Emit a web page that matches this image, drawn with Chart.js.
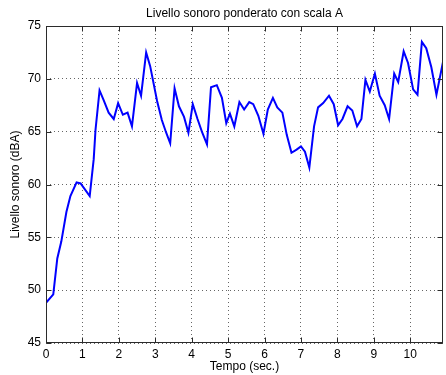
<!DOCTYPE html>
<html>
<head>
<meta charset="utf-8">
<script src="https://cdn.jsdelivr.net/npm/chart.js@4/dist/chart.umd.min.js"></script>
<style>
  html, body { margin: 0; padding: 0; background: #fff; }
  #wrap { width: 446px; height: 375px; }
</style>
</head>
<body>
<div id="wrap"><canvas id="c" width="446" height="375"></canvas></div>
<script>
// A-weighted sound level over time
const times = [0, 0.2, 0.31, 0.42, 0.56, 0.67, 0.84, 0.95, 1.2, 1.31,
  1.36, 1.47, 1.58, 1.72, 1.86, 1.98, 2.11, 2.24, 2.36, 2.5,
  2.61, 2.75, 2.86, 3.05, 3.18, 3.3, 3.41, 3.53, 3.65, 3.79,
  3.91, 4.03, 4.16, 4.28, 4.42, 4.53, 4.69, 4.83, 4.95, 5.05,
  5.17, 5.31, 5.44, 5.58, 5.69, 5.83, 5.97, 6.09, 6.23, 6.35,
  6.49, 6.61, 6.74, 6.88, 7.0, 7.11, 7.23, 7.36, 7.47, 7.61,
  7.77, 7.9, 8.02, 8.14, 8.28, 8.41, 8.54, 8.66, 8.77, 8.89,
  9.03, 9.16, 9.3, 9.42, 9.56, 9.67, 9.82, 9.94, 10.08, 10.2,
  10.32, 10.44, 10.58, 10.72, 10.9];
const levels = [48.8, 49.6, 53.0, 54.6, 57.4, 58.9, 60.2, 60.1, 58.9, 62.4,
  65.2, 68.9, 68.0, 66.8, 66.2, 67.7, 66.6, 66.8, 65.5, 69.6,
  68.4, 72.5, 71.2, 67.9, 66.1, 64.9, 63.9, 69.1, 67.4, 66.4,
  64.9, 67.6, 66.2, 65.0, 63.8, 69.2, 69.4, 68.2, 65.8, 66.7,
  65.5, 67.8, 67.1, 67.8, 67.6, 66.5, 64.8, 67.1, 68.2, 67.3,
  66.8, 64.7, 63.0, 63.3, 63.6, 63.1, 61.6, 65.5, 67.3, 67.7,
  68.4, 67.6, 65.6, 66.2, 67.4, 67.0, 65.5, 66.2, 69.9, 68.8,
  70.5, 68.4, 67.5, 66.2, 70.5, 69.7, 72.6, 71.5, 69.0, 68.5,
  73.5, 72.9, 71.1, 68.5, 71.6];
const xTicks = [0, 1, 2, 3, 4, 5, 6, 7, 8, 9, 10];
const yTicks = [45, 50, 55, 60, 65, 70, 75];
const xRange = [0, 10.9];
const yRange = [45, 75];

const chartTitle = 'Livello sonoro ponderato con scala A';
const xTitle = 'Tempo (sec.)';
const yTitle = 'Livello sonoro (dBA)';

const FONT = "'Liberation Sans', Arial, sans-serif";
const FSIZE = 12;

// Title centred over the plot, framed box and inward tick marks
const framePlugin = {
  id: 'frame',
  afterDatasetsDraw(chart) {
    const { ctx, chartArea: a, scales } = chart;
    ctx.save();
    ctx.strokeStyle = '#2b2b2b';
    ctx.lineWidth = 1;
    const L = Math.round(a.left) + 0.5, R = Math.round(a.right) - 0.5;
    const T = Math.round(a.top) + 0.5, B = Math.round(a.bottom) - 0.5;
    ctx.strokeRect(L, T, R - L, B - T);
    const len = 5;
    ctx.beginPath();
    xTicks.forEach(v => {
      const px = Math.round(scales.x.getPixelForValue(v)) + 0.5;
      ctx.moveTo(px, B); ctx.lineTo(px, B - len);
      ctx.moveTo(px, T); ctx.lineTo(px, T + len);
    });
    yTicks.forEach(v => {
      const py = Math.round(scales.y.getPixelForValue(v)) + 0.5;
      ctx.moveTo(L, py); ctx.lineTo(L + len, py);
      ctx.moveTo(R, py); ctx.lineTo(R - len, py);
    });
    ctx.stroke();
    ctx.fillStyle = '#000';
    ctx.font = FSIZE + 'px ' + FONT;
    ctx.textAlign = 'center';
    ctx.textBaseline = 'middle';
    ctx.fillText(chartTitle, (a.left + a.right) / 2, 14);
    ctx.restore();
  }
};

new Chart(document.getElementById('c'), {
  type: 'line',
  data: {
    datasets: [{
      data: times.map((t, i) => ({ x: t, y: levels[i] })),
      borderColor: '#0000ff',
      borderWidth: 2,
      pointRadius: 0,
      tension: 0,
      fill: false
    }]
  },
  options: {
    responsive: false,
    animation: false,
    layout: { padding: { top: 26, right: 3, left: 0, bottom: 0 } },
    plugins: { legend: { display: false }, tooltip: { enabled: false }, title: { display: false } },
    scales: {
      x: {
        type: 'linear',
        min: xRange[0], max: xRange[1],
        afterBuildTicks: s => { s.ticks = xTicks.map(v => ({ value: v })); },
        afterFit: s => { s.height = 32; },
        grid: { color: 'rgba(0,0,0,0.6)', drawTicks: false, lineWidth: 1 },
        border: { display: false, dash: [1, 3] },
        ticks: { color: '#000', font: { family: FONT, size: FSIZE }, padding: 4, maxRotation: 0, autoSkip: false },
        title: { display: true, text: xTitle, color: '#000', font: { family: FONT, size: FSIZE }, padding: { top: 0, bottom: 1 } }
      },
      y: {
        type: 'linear',
        min: yRange[0], max: yRange[1],
        afterBuildTicks: s => { s.ticks = yTicks.map(v => ({ value: v })); },
        afterFit: s => { s.width = 46; },
        grid: { color: 'rgba(0,0,0,0.6)', drawTicks: false, lineWidth: 1 },
        border: { display: false, dash: [1, 3] },
        ticks: { color: '#000', font: { family: FONT, size: FSIZE }, padding: 5, autoSkip: false },
        title: { display: true, text: yTitle, color: '#000', font: { family: FONT, size: FSIZE }, padding: { top: 8, bottom: 0 } }
      }
    }
  },
  plugins: [framePlugin]
});
</script>
</body>
</html>
